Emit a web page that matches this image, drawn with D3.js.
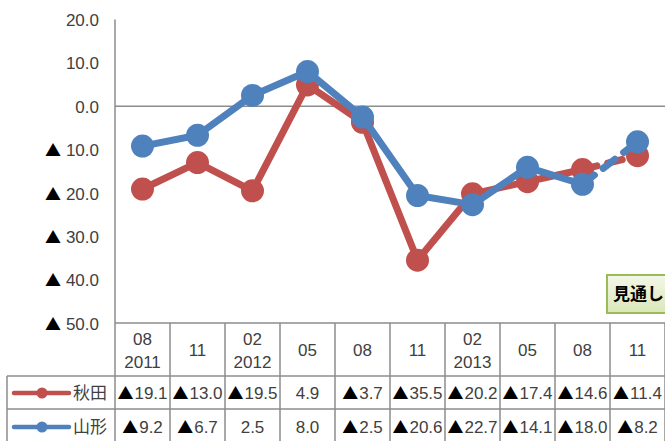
<!DOCTYPE html>
<html>
<head>
<meta charset="utf-8">
<script src="https://cdn.jsdelivr.net/npm/d3@7"></script>
<style>
  body { margin: 0; background: #fff; }
  svg { display: block; }
  .num { font-family: "Liberation Sans Narrow", "Arial Narrow", "Liberation Sans", sans-serif; font-size: 17px; fill: #404040; }
  .tri { font-family: "Noto Sans CJK JP", sans-serif; font-size: 16px; fill: #000; }
  .cjk { font-family: "Noto Sans CJK JP", sans-serif; font-size: 16px; fill: #404040; }
</style>
</head>
<body>
<div id="chart"></div>
<script>
// 値 (▲はマイナス)
const months = ['08', '11', '02', '05', '08', '11', '02', '05', '08', '11'];
const years = ['2011', '', '2012', '', '', '', '2013', '', '', ''];
const akita = [-19.1, -13.0, -19.5, 4.9, -3.7, -35.5, -20.2, -17.4, -14.6, -11.4];
const yamagata = [-9.2, -6.7, 2.5, 8.0, -2.5, -20.6, -22.7, -14.1, -18.0, -8.2];
const yTicks = [20, 10, 0, -10, -20, -30, -40, -50];
const seriesNames = ['秋田', '山形'];
const outlookLabel = '見通し';

const width = 665, height = 441;
const left = 115, right = 665;
const red = '#c0504d', blue = '#4f81bd', grid = '#8c8c8c';

const svg = d3.select('#chart').append('svg').attr('width', width).attr('height', height);

const x = d3.scaleBand().domain(d3.range(months.length)).range([left, right]);
const cx = i => x(i) + x.bandwidth() / 2;
const y = d3.scaleLinear().domain([-50, 20]).range([323, 19.5]);

// ▲付きの数値ラベル
function numLabel(t, v, gap) {
  if (v < 0) {
    t.append('tspan').attr('class', 'tri').text('▲');
    t.append('tspan').attr('dx', gap).text(Math.abs(v).toFixed(1));
  } else {
    t.text(v.toFixed(1));
  }
}

// y 軸ラベル
const yAxis = d3.axisLeft(y).tickValues(yTicks).tickSize(0).tickPadding(16).tickFormat('');
const ga = svg.append('g').attr('transform', 'translate(' + left + ',0)').call(yAxis);
ga.select('.domain').remove();
ga.selectAll('text').attr('class', 'num').attr('font-family', null).attr('font-size', null)
  .attr('dy', '0.36em').each(function(d) { numLabel(d3.select(this), d, 5); });

// 軸線・ゼロ線
svg.append('line').attr('x1', left).attr('x2', left).attr('y1', y(20)).attr('y2', height)
  .attr('stroke', grid).attr('stroke-width', 1.5);
svg.append('line').attr('x1', left).attr('x2', right).attr('y1', y(0)).attr('y2', y(0))
  .attr('stroke', grid).attr('stroke-width', 1.5);

// 見通し ボックス
const grad = svg.append('defs').append('linearGradient').attr('id', 'g1').attr('x1', 0).attr('y1', 0).attr('x2', 0).attr('y2', 1);
grad.append('stop').attr('offset', 0).attr('stop-color', '#f3f7e8');
grad.append('stop').attr('offset', 1).attr('stop-color', '#d9e7b8');
svg.append('rect').attr('x', 607).attr('y', 275).attr('width', 80).attr('height', 38)
  .attr('fill', 'url(#g1)').attr('stroke', '#9bbb59').attr('stroke-width', 2);
svg.append('text').attr('x', 613).attr('y', 300).attr('class', 'cjk')
  .style('fill', '#000').style('font-weight', 'bold').style('font-size', '17px').text(outlookLabel);

// 折れ線
const n = months.length;
function drawSeries(vals, color) {
  const g = svg.append('g');
  const line = d3.line().x((d, i) => cx(i)).y(d => y(d));
  g.append('path').attr('d', line(vals.slice(0, n - 1))).attr('fill', 'none')
    .attr('stroke', color).attr('stroke-width', 7).attr('stroke-linejoin', 'round');
  const lastLine = d3.line().x(d => cx(d)).y(d => y(vals[d]));
  g.append('path').attr('d', lastLine([n - 2, n - 1])).attr('fill', 'none')
    .attr('stroke', color).attr('stroke-width', 7).attr('stroke-linecap', 'round')
    .attr('stroke-dasharray', '15,11');
  g.selectAll('circle').data(vals).enter().append('circle')
    .attr('cx', (d, i) => cx(i)).attr('cy', d => y(d)).attr('r', 11.5).attr('fill', color);
}
drawSeries(akita, red);
drawSeries(yamagata, blue);

// データテーブル
const tTop = 323, hBot = 376, r1Bot = 409, tLeft = 7;
const tbl = svg.append('g').attr('stroke', grid).attr('stroke-width', 1.5);
tbl.append('line').attr('x1', left).attr('x2', right).attr('y1', tTop).attr('y2', tTop);
tbl.append('line').attr('x1', tLeft).attr('x2', right).attr('y1', hBot).attr('y2', hBot);
tbl.append('line').attr('x1', tLeft).attr('x2', right).attr('y1', r1Bot).attr('y2', r1Bot);
tbl.append('line').attr('x1', tLeft).attr('x2', tLeft).attr('y1', hBot).attr('y2', height);
tbl.selectAll('.v').data(d3.range(1, n + 1)).enter().append('line')
  .attr('x1', i => x(i - 1) + x.bandwidth()).attr('x2', i => x(i - 1) + x.bandwidth())
  .attr('y1', tTop).attr('y2', height);

// ヘッダー
months.forEach((m, i) => {
  if (years[i]) {
    svg.append('text').attr('class', 'num').attr('x', cx(i)).attr('y', 339).attr('dy', '0.36em')
      .attr('text-anchor', 'middle').text(m);
    svg.append('text').attr('class', 'num').attr('x', cx(i)).attr('y', 362).attr('dy', '0.36em')
      .attr('text-anchor', 'middle').text(years[i]);
  } else {
    svg.append('text').attr('class', 'num').attr('x', cx(i)).attr('y', 350).attr('dy', '0.36em')
      .attr('text-anchor', 'middle').text(m);
  }
});

// 行
[[akita, red, 393], [yamagata, blue, 427]].forEach(([vals, color, ry], k) => {
  svg.append('line').attr('x1', 14).attr('x2', 69).attr('y1', ry).attr('y2', ry)
    .attr('stroke', color).attr('stroke-width', 4.5).attr('stroke-linecap', 'round');
  svg.append('circle').attr('cx', 42).attr('cy', ry).attr('r', 5.5).attr('fill', color);
  svg.append('text').attr('class', 'cjk').attr('x', 73).attr('y', ry).attr('dy', '0.36em')
    .style('font-size', '17px').text(seriesNames[k]);
  vals.forEach(v => {});
  vals.forEach((v, i) => {
    const t = svg.append('text').attr('class', 'num').attr('x', cx(i)).attr('y', ry).attr('dy', '0.36em')
      .attr('text-anchor', 'middle');
    numLabel(t, v, 1);
  });
});
</script>
</body>
</html>
